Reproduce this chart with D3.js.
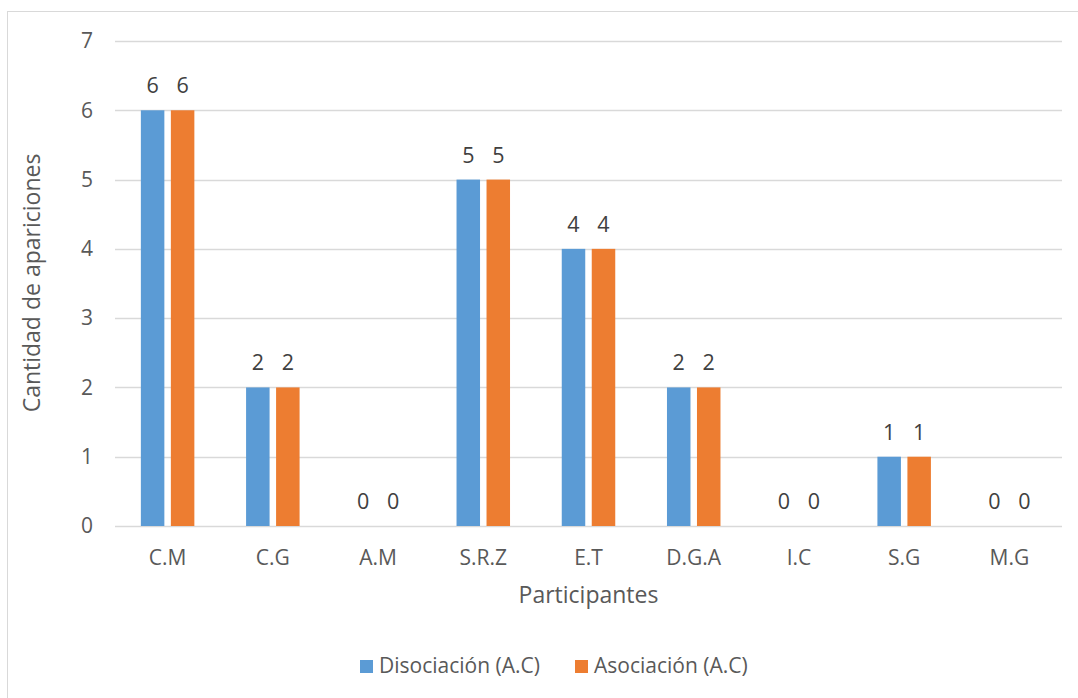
<!DOCTYPE html>
<html>
<head>
<meta charset="utf-8">
<script src="https://cdn.jsdelivr.net/npm/d3@7"></script>
<style>
  html, body { margin: 0; padding: 0; background: #fff; }
  svg { display: block; font-family: "Open Sans", "Liberation Sans", sans-serif; }
</style>
</head>
<body>
<svg id="chart" width="1078" height="698"></svg>
<script>
// Participants and the number of appearances per category
const participants = ["C.M", "C.G", "A.M", "S.R.Z", "E.T", "D.G.A", "I.C", "S.G", "M.G"];
const disociacion = [6, 2, 0, 5, 4, 2, 0, 1, 0];
const asociacion  = [6, 2, 0, 5, 4, 2, 0, 1, 0];
const seriesNames = ["Disociación (A.C)", "Asociación (A.C)"];
const yTicks = [0, 1, 2, 3, 4, 5, 6, 7];

const colors = ["#5B9BD5", "#ED7D31"];
const textColor = "#595959";
const gridColor = "#D9D9D9";
const fontFamily = "Open Sans, Liberation Sans, sans-serif";

const svg = d3.select("#chart");

// outer frame (top and left edges visible)
svg.append("rect")
  .attr("x", 7.5).attr("y", 11.5)
  .attr("width", 1090).attr("height", 720)
  .attr("fill", "none").attr("stroke", "#D9D9D9").attr("stroke-width", 1);

const plot = { left: 115, right: 1062, top: 41, bottom: 526 };

const x = d3.scaleBand().domain(participants).range([plot.left, plot.right]);
const y = d3.scaleLinear().domain([0, 7]).range([plot.bottom, plot.top]);

const barW = 23.5, barGap = 6.5;

// gridlines
svg.append("g")
  .selectAll("line").data(yTicks).join("line")
  .attr("x1", plot.left).attr("x2", plot.right)
  .attr("y1", d => Math.round(y(d)) + 0.5).attr("y2", d => Math.round(y(d)) + 0.5)
  .attr("stroke", gridColor).attr("stroke-width", 1.3);

// y axis labels
const yAxis = svg.append("g")
  .attr("transform", `translate(${plot.left - 22},0)`)
  .call(d3.axisLeft(y).tickValues(yTicks).tickSize(0).tickPadding(0).tickFormat(d3.format("d")));
yAxis.select(".domain").remove();
yAxis.selectAll("text")
  .attr("fill", textColor).attr("font-size", 21).attr("font-family", fontFamily);

// x axis labels
const xAxis = svg.append("g")
  .attr("transform", `translate(0,${plot.bottom})`)
  .call(d3.axisBottom(x).tickSize(0).tickPadding(24));
xAxis.select(".domain").remove();
xAxis.selectAll("text")
  .attr("fill", textColor).attr("font-size", 21).attr("font-family", fontFamily);

// bars with value labels
const series = [disociacion, asociacion];
series.forEach((vals, si) => {
  const g = svg.append("g");
  const offset = si === 0 ? -(barW + barGap / 2) : barGap / 2;
  g.selectAll("rect").data(vals).join("rect")
    .attr("x", (d, i) => x(participants[i]) + x.bandwidth() / 2 + offset)
    .attr("y", d => y(d))
    .attr("width", barW)
    .attr("height", d => y(0) - y(d))
    .attr("fill", colors[si]);
  g.selectAll("text").data(vals).join("text")
    .attr("x", (d, i) => x(participants[i]) + x.bandwidth() / 2 + offset + barW / 2)
    .attr("y", d => y(d) - 17)
    .attr("text-anchor", "middle")
    .attr("fill", "#404040")
    .attr("font-size", 21.5)
    .text(d => d);
});

// axis titles
svg.append("text")
  .attr("x", (plot.left + plot.right) / 2).attr("y", 603)
  .attr("text-anchor", "middle")
  .attr("fill", textColor).attr("font-size", 23)
  .text("Participantes");

svg.append("text")
  .attr("transform", `translate(40,283) rotate(-90)`)
  .attr("text-anchor", "middle")
  .attr("fill", textColor).attr("font-size", 23)
  .text("Cantidad de apariciones");

// legend
const legendItems = [
  { name: seriesNames[0], color: colors[0], x: 360 },
  { name: seriesNames[1], color: colors[1], x: 575 }
];
const legend = svg.append("g");
legendItems.forEach(it => {
  legend.append("rect")
    .attr("x", it.x).attr("y", 660)
    .attr("width", 13).attr("height", 13)
    .attr("fill", it.color);
  legend.append("text")
    .attr("x", it.x + 19).attr("y", 673)
    .attr("fill", textColor).attr("font-size", 21)
    .text(it.name);
});
</script>
</body>
</html>
